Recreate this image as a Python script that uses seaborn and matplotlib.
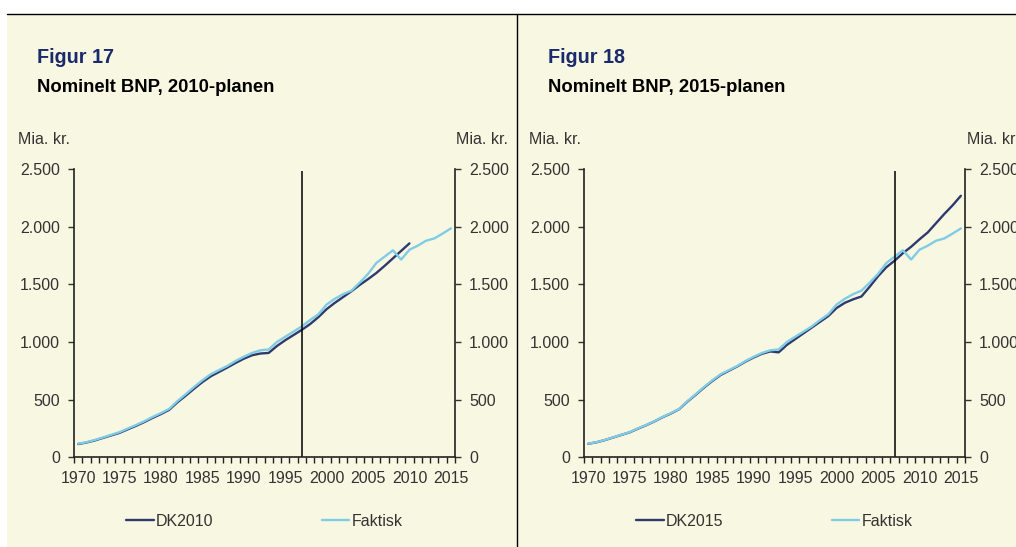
import numpy as np
import pandas as pd
import matplotlib
matplotlib.use("Agg")
import matplotlib.pyplot as plt
import seaborn as sns
from matplotlib.lines import Line2D
from matplotlib.patches import Rectangle
from matplotlib.ticker import FuncFormatter, FixedLocator

# --- Data (mia. kr.) ---
years = list(range(1970, 2016))

faktisk = [118, 131, 150, 172, 195, 218, 250, 280, 313, 350,
           383, 420, 488, 548, 610, 668, 720, 756, 792, 835,
           872, 905, 928, 935, 1000, 1045, 1090, 1135, 1190, 1240,
           1325, 1375, 1415, 1445, 1515, 1590, 1685, 1740, 1795, 1715,
           1800, 1835, 1878, 1898, 1940, 1985]

dk2010_years = list(range(1970, 2011))
dk2010 = [115, 128, 146, 168, 190, 212, 243, 273, 306, 342,
          375, 412, 478, 535, 595, 652, 702, 740, 778, 818,
          855, 885, 900, 905, 965, 1015, 1060, 1105, 1155, 1215,
          1285, 1340, 1390, 1440, 1495, 1545, 1598, 1660, 1725, 1790,
          1855]

dk2015 = [117, 130, 149, 171, 194, 216, 248, 278, 311, 348,
          380, 418, 484, 543, 605, 662, 714, 751, 788, 830,
          866, 898, 918, 910, 975, 1025, 1075, 1125, 1175, 1225,
          1295, 1340, 1370, 1395, 1480, 1570, 1648, 1705, 1770, 1826,
          1890, 1950, 2030, 2110, 2185, 2268]

panels = [
    {"fig": "Figur 17", "title": "Nominelt BNP, 2010-planen", "plan": "DK2010",
     "plan_years": dk2010_years, "plan_values": dk2010, "cut": 1997},
    {"fig": "Figur 18", "title": "Nominelt BNP, 2015-planen", "plan": "DK2015",
     "plan_years": years, "plan_values": dk2015, "cut": 2007},
]

# --- Style ---
CREAM = "#F8F7E1"
DARK = "#2E3A6E"
LIGHT = "#80CCE6"
NAVY = "#1B2A6B"
TXT = "#333333"
FS = 11.5

sns.set_theme(style="white")
plt.rcParams["font.family"] = ["Liberation Sans", "DejaVu Sans"]


def dk_fmt(v, pos):
    return f"{int(v):,}".replace(",", ".")


def draw_panel(fig, x0, p):
    ax = fig.add_axes([x0, 0.164, 0.375, 0.527])
    ax.set_facecolor("none")

    sns.lineplot(x=p["plan_years"], y=p["plan_values"], ax=ax, color=DARK,
                 lw=1.7, label=p["plan"])
    sns.lineplot(x=years, y=faktisk, ax=ax, color=LIGHT, lw=1.7, label="Faktisk")
    ax.vlines(p["cut"], 0, 2480, color="black", lw=1.1)

    ax.set_xlim(1969.5, 2015.5)
    ax.set_ylim(0, 2500)
    ax.set_yticks(range(0, 2501, 500))
    ax.yaxis.set_major_formatter(FuncFormatter(dk_fmt))
    ax.set_xticks(range(1970, 2016, 5))
    ax.xaxis.set_minor_locator(FixedLocator(np.arange(1969.5, 2016, 1)))

    for s in ["left", "right", "bottom"]:
        ax.spines[s].set_visible(True)
        ax.spines[s].set_color("#222222")
        ax.spines[s].set_linewidth(1.2)
    ax.spines["top"].set_visible(False)

    ax.tick_params(axis="y", which="major", left=True, right=True,
                   labelleft=True, labelright=True, direction="out",
                   length=4, width=1, pad=6, labelsize=FS, colors=TXT)
    ax.tick_params(axis="x", which="major", bottom=True, length=0,
                   pad=10, labelsize=FS, colors=TXT)
    ax.tick_params(axis="x", which="minor", bottom=True, direction="out",
                   length=4, width=1, color="#222222")
    ax.set_xlabel("")
    ax.set_ylabel("")
    ax.grid(False)

    ax.legend(loc="center", bbox_to_anchor=(0.5, -0.223), ncol=2, frameon=False,
              fontsize=FS, handlelength=1.7, handletextpad=0.15,
              columnspacing=6.8, labelcolor=TXT)
    return ax


fig = plt.figure(figsize=(10.16, 5.47), dpi=100, facecolor="white")

# cream background, top rule and panel divider
fig.add_artist(Rectangle((7 / 1016, 0), 1, (547 - 14) / 547,
                         transform=fig.transFigure, facecolor=CREAM,
                         edgecolor="none", zorder=-10))
fig.add_artist(Line2D([7 / 1016, 1], [(547 - 14) / 547] * 2,
                      transform=fig.transFigure, color="black", lw=1))
fig.add_artist(Line2D([517 / 1016] * 2, [0, (547 - 14) / 547],
                      transform=fig.transFigure, color="black", lw=1))

lefts = [74 / 1016, 584 / 1016]
offsets = [0, 511]
for p, x0, off in zip(panels, lefts, offsets):
    draw_panel(fig, x0, p)
    fig.text((37 + off) / 1016, 0.884, p["fig"], fontsize=14.2,
             fontweight="bold", color=NAVY, va="baseline")
    fig.text((37 + off) / 1016, 0.8325, p["title"], fontsize=13.3,
             fontweight="bold", color="black", va="baseline")
    fig.text((18 + off) / 1016, 0.7362, "Mia. kr.", fontsize=FS,
             color=TXT, va="baseline")
    fig.text((456 + off) / 1016, 0.7362, "Mia. kr.", fontsize=FS,
             color=TXT, va="baseline")

fig.savefig("out.png", dpi=100, facecolor=fig.get_facecolor())
